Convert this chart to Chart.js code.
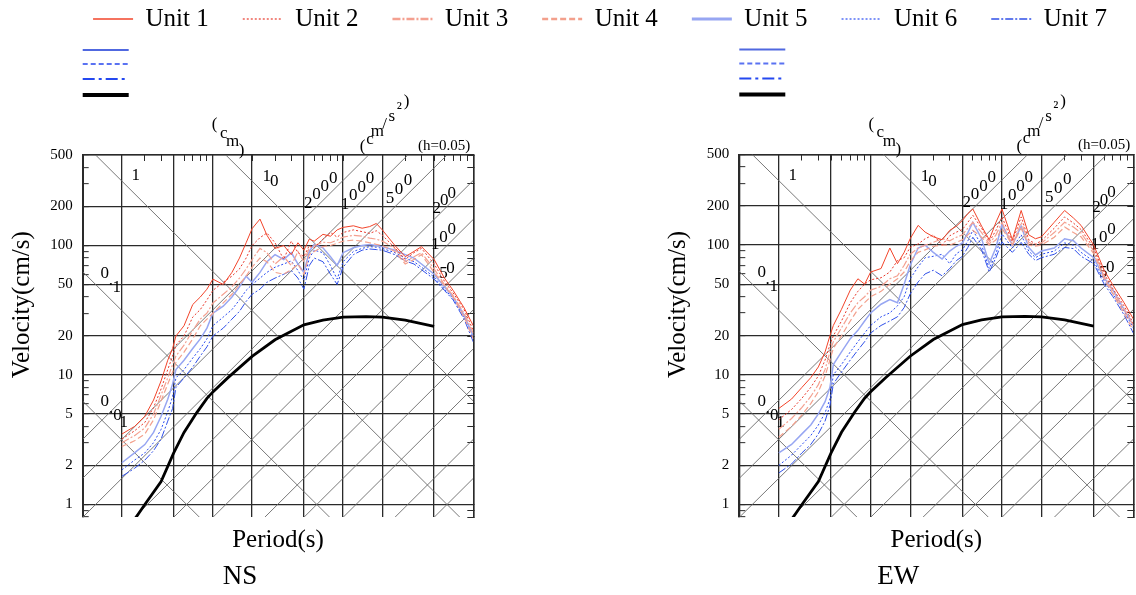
<!DOCTYPE html>
<html>
<head>
<meta charset="utf-8">
<script src="https://cdn.jsdelivr.net/npm/chart.js@4/dist/chart.umd.min.js"></script>
<style>
  html, body { margin: 0; padding: 0; background: #fff; }
  #wrap { position: relative; width: 1136px; height: 595px; }
  #wrap canvas { position: absolute; left: 0; top: 0; }
</style>
</head>
<body>
<div id="wrap">
  <canvas id="ns" width="1136" height="595"></canvas>
  <canvas id="ew" width="1136" height="595"></canvas>
</div>
<script>
// ---- data ----
const unitNames = ['Unit 1', 'Unit 2', 'Unit 3', 'Unit 4', 'Unit 5', 'Unit 6', 'Unit 7']

// period samples (s) shared by all unit spectra
const periods = [0.02, 0.025, 0.03, 0.035, 0.04, 0.045, 0.049, 0.052, 0.06, 0.07, 0.08, 0.09, 0.1,
  0.12, 0.14, 0.16, 0.18, 0.2, 0.23, 0.26, 0.3, 0.35, 0.4, 0.45, 0.5, 0.55, 0.6, 0.7, 0.8, 0.9, 1.0,
  1.2, 1.4, 1.6, 1.8, 2.0, 2.5, 3.0, 3.5, 4.0, 5.0, 6.0, 7.0, 8.5, 10]

// NS velocity response (cm/s)
const nsUnit1 = [3.5, 4.0, 4.8, 6.4, 9.0, 13, 16, 20, 24, 35, 40, 46, 55, 50, 62, 80, 105, 135, 160, 120, 95, 100, 85, 105, 92, 112, 108, 122, 118, 132, 138, 142, 136, 140, 148, 132, 100, 82, 90, 98, 78, 56, 45, 33, 24]
const nsUnit2 = [3.2, 3.7, 4.3, 5.6, 7.8, 11, 14, 17, 20, 28, 32, 38, 45, 52, 58, 66, 80, 100, 115, 125, 105, 78, 108, 88, 82, 100, 96, 112, 126, 116, 126, 132, 128, 124, 130, 120, 96, 78, 88, 95, 72, 53, 43, 32, 22]
const nsUnit3 = [3.0, 3.4, 3.9, 5.0, 7.0, 9.5, 12, 14, 17, 22, 27, 30, 36, 42, 48, 56, 66, 78, 95, 88, 72, 82, 70, 90, 75, 96, 100, 106, 105, 110, 116, 120, 118, 114, 112, 108, 95, 75, 82, 88, 66, 50, 41, 30, 21]
const nsUnit4 = [2.8, 3.1, 3.5, 4.5, 6.3, 8.5, 10.5, 12.5, 15, 19, 24, 27, 30, 36, 42, 50, 58, 68, 80, 75, 62, 60, 65, 72, 60, 85, 90, 98, 100, 104, 108, 110, 108, 105, 102, 100, 90, 72, 78, 85, 62, 49, 40, 28, 19]
const nsUnit5 = [2.1, 2.5, 2.9, 3.6, 4.8, 6.5, 8.5, 11, 13, 16, 19, 23, 30, 34, 40, 48, 58, 52, 62, 75, 85, 78, 88, 72, 62, 90, 102, 96, 82, 70, 88, 96, 100, 102, 100, 98, 92, 85, 80, 72, 60, 48, 40, 29, 20]
const nsUnit6 = [1.85, 2.2, 2.5, 3.0, 3.8, 5.2, 6.8, 9.5, 11, 13.5, 16, 19, 24, 28, 32, 38, 45, 50, 56, 62, 68, 72, 76, 64, 54, 80, 92, 88, 70, 55, 75, 90, 95, 98, 97, 95, 88, 80, 75, 68, 57, 46, 39, 28, 19.5]
const nsUnit7 = [1.65, 1.9, 2.2, 2.6, 3.2, 4.4, 5.5, 8, 9.5, 11.5, 14, 16.5, 20, 23, 27, 31, 37, 42, 46, 52, 56, 60, 64, 56, 46, 70, 80, 75, 60, 50, 68, 85, 92, 94, 93, 92, 85, 76, 72, 65, 55, 45, 38, 27, 18]

// EW velocity response (cm/s)
const ewUnit1 = [5.5, 6.5, 8.0, 9.5, 11.5, 15, 20, 24, 32, 45, 55, 50, 62, 66, 95, 72, 88, 112, 142, 126, 116, 110, 130, 140, 155, 175, 190, 140, 110, 150, 190, 110, 185, 120, 112, 116, 150, 185, 162, 142, 100, 64, 49, 36, 27]
const ewUnit2 = [4.5, 5.4, 6.6, 8.0, 9.8, 13, 17, 20, 26, 36, 44, 50, 54, 56, 62, 76, 80, 96, 102, 112, 120, 100, 118, 126, 132, 150, 170, 135, 106, 130, 165, 106, 165, 110, 102, 108, 135, 165, 148, 132, 95, 60, 46, 34, 25]
const ewUnit3 = [3.8, 4.6, 5.6, 6.8, 8.4, 11, 15, 18, 23, 30, 36, 40, 45, 48, 55, 58, 70, 85, 95, 100, 105, 112, 108, 115, 120, 135, 150, 125, 102, 120, 150, 100, 150, 105, 100, 104, 125, 150, 138, 124, 90, 57, 44, 32, 24]
const ewUnit4 = [3.3, 4.0, 4.9, 6.0, 7.4, 9.8, 13, 16, 20, 26, 32, 36, 40, 44, 50, 55, 62, 75, 88, 92, 98, 100, 100, 105, 110, 120, 130, 115, 100, 110, 135, 100, 135, 100, 98, 100, 115, 138, 125, 116, 86, 55, 42, 30, 22]
const ewUnit5 = [2.5, 2.9, 3.5, 4.1, 5.0, 6.2, 8.0, 12, 15, 19, 22, 26, 30, 35, 38, 36, 50, 70, 95, 100, 88, 78, 90, 98, 104, 125, 150, 112, 72, 96, 145, 100, 140, 96, 84, 90, 95, 112, 108, 95, 80, 56, 45, 32, 24]
const ewUnit6 = [2.0, 2.4, 2.9, 3.4, 4.1, 5.1, 6.5, 10, 12, 15, 18, 21, 24, 28, 30, 34, 40, 55, 68, 80, 82, 85, 72, 86, 92, 108, 130, 100, 66, 86, 122, 95, 120, 90, 80, 85, 90, 104, 100, 88, 75, 53, 42, 31, 23]
const ewUnit7 = [1.75, 2.05, 2.5, 2.9, 3.5, 4.4, 5.8, 8.5, 10.5, 13, 15.5, 18, 21, 24, 26, 28, 33, 42, 52, 60, 64, 58, 66, 76, 82, 96, 115, 92, 62, 80, 106, 88, 105, 85, 76, 80, 85, 96, 94, 82, 72, 50, 40, 29, 21]

// thick black reference spectrum (same in both panels)
const targetPeriods = [0.024, 0.03, 0.04, 0.05, 0.06, 0.075, 0.09, 0.1, 0.13, 0.2, 0.3, 0.5, 0.7, 1.0, 1.5, 2.0, 3.0, 5.0]
const targetVel = [0.72, 1.0, 1.5, 2.5, 3.6, 5.1, 6.6, 7.4, 9.5, 13.9, 18.7, 24.4, 26.5, 28, 28.2, 28, 26.5, 23.7]

// axes
const periodRange = [0.01, 10]
const velocityRange = [0.8, 500]
const periodGrid = [0.01, 0.02, 0.05, 0.1, 0.2, 0.5, 1, 2, 5, 10]
const velocityLabels = [1, 2, 5, 10, 20, 50, 100, 200, 500]

// tripartite families: displacement (cm) and acceleration (cm/s^2)
const dispLines = [0.01, 0.1, 1, 10]
const accLines = [1, 2, 5, 10, 20, 50, 100, 200, 500, 1000, 2000]
const diagLabels = [
  { text: '1', at: [0.0255, 345], step: [0, 0] },
  { text: '10', at: [0.259, 340], step: [7.5, 5] },
  { text: '0.1', at: [0.0148, 61], step: [6, 7] },
  { text: '0.01', at: [0.0148, 6.26], step: [6.3, 7] },
  { text: '2000', at: [0.54, 212], step: [8.3, -8.3] },
  { text: '1000', at: [1.035, 206], step: [8.3, -8.9] },
  { text: '500', at: [2.29, 232], step: [9, -9] },
  { text: '200', at: [5.24, 194], step: [7.5, -7.5] },
  { text: '100', at: [5.1, 101], step: [8.3, -7.5] },
  { text: '50', at: [5.9, 61], step: [7, -5] }
]
const unitNotes = [
  { text: '(cm)', dx: 132, dy: -30, step: [9, 8.5] },
  { text: '(cm/s\u00b2)', dx: 280, dy: -8, step: [7.3, -7.5] }
]

// ---- styles ----
const serif = '"Liberation Serif", "Times New Roman", serif'
Chart.defaults.font.family = serif
Chart.defaults.color = '#000'
const gridColor = '#2a2a2a'
const clear = 'rgba(0,0,0,0)'

const unitStyles = [
  { borderColor: '#f2442a', borderWidth: 1, borderDash: [], keyWidth: 1.5 },
  { borderColor: '#e8392c', borderWidth: 1, borderDash: [2, 2], keyWidth: 1.2 },
  { borderColor: '#f4a090', borderWidth: 1.2, borderDash: [8, 2, 2, 2], keyWidth: 2.5 },
  { borderColor: '#f3a08c', borderWidth: 1.2, borderDash: [6, 3], keyWidth: 2.5 },
  { borderColor: '#97a6f2', borderWidth: 1.5, borderDash: [], keyWidth: 3 },
  { borderColor: '#2a4cf2', borderWidth: 1, borderDash: [2, 2], keyWidth: 1.2 },
  { borderColor: '#3050e8', borderWidth: 1, borderDash: [8, 2, 2, 2], keyWidth: 1.5 }
]
const keyStyles = [
  { borderColor: '#5068e0', borderWidth: 1.5, borderDash: [], keyWidth: 2 },
  { borderColor: '#5a72f2', borderWidth: 1.5, borderDash: [5, 3], keyWidth: 2.2 },
  { borderColor: '#2448f0', borderWidth: 1.5, borderDash: [12, 4, 3, 4], keyWidth: 2 }
]

function decadeTicks(min, max) {
  let out = []
  for (let e = -3; e <= 3; e++) {
    for (let m = 1; m <= 9; m++) {
      let v = +(m * Math.pow(10, e)).toPrecision(2)
      if (v >= min * 0.999 && v <= max * 1.001) out.push(v)
    }
  }
  return out
}
const xTicks = decadeTicks(periodRange[0], periodRange[1])
const yTicks = decadeTicks(velocityRange[0], velocityRange[1])
const isMajor = (v, list) => list.some(m => Math.abs(v / m - 1) < 1e-6)

// ---- plugins ----
const legendNudge = {
  id: 'legendNudge',
  afterLayout(chart, args, opts) {
    let lg = chart.legend
    if (!lg || !lg.options.display) return
    lg.left += opts.dx; lg.right += opts.dx
    lg.top += opts.dy; lg.bottom += opts.dy
  }
}

const keyBlock = {
  id: 'keyBlock',
  afterDraw(chart, args, opts) {
    let { ctx, chartArea: a } = chart
    chart.data.datasets.forEach(ds => {
      if (ds.keyRow === undefined) return
      let y = a.top + opts.rows[ds.keyRow]
      ctx.save()
      ctx.strokeStyle = ds.borderColor
      ctx.lineWidth = ds.keyWidth || ds.borderWidth
      ctx.setLineDash(ds.borderDash || [])
      ctx.beginPath()
      ctx.moveTo(a.left + opts.x0, y)
      ctx.lineTo(a.left + opts.x0 + opts.len, y)
      ctx.stroke()
      ctx.restore()
    })
  }
}

const tripartite = {
  id: 'tripartite',
  beforeDatasetsDraw(chart, args, o) {
    let { ctx, chartArea: a } = chart
    let xs = chart.scales.x, ys = chart.scales.y
    let t0 = xs.min, t1 = xs.max, k = 2 * Math.PI
    let px = (t, v) => [xs.getPixelForValue(t), ys.getPixelForValue(v)]
    let seg = (p, q) => { ctx.beginPath(); ctx.moveTo(p[0], p[1]); ctx.lineTo(q[0], q[1]); ctx.stroke() }
    ctx.save()
    ctx.beginPath()
    ctx.rect(a.left, a.top, a.right - a.left, a.bottom - a.top)
    ctx.clip()
    ctx.strokeStyle = o.color
    ctx.lineWidth = o.width
    dispLines.forEach(d => seg(px(t0, k * d / t0), px(t1, k * d / t1)))
    accLines.forEach(g => seg(px(t0, g * t0 / k), px(t1, g * t1 / k)))
    ctx.restore()

    ctx.save()
    ctx.fillStyle = '#000'
    ctx.font = o.font
    ctx.textAlign = 'center'
    ctx.textBaseline = 'middle'
    diagLabels.forEach(l => {
      let p = px(l.at[0], l.at[1])
      Array.from(l.text).forEach((ch, i) => ctx.fillText(ch, p[0] + i * l.step[0], p[1] + i * l.step[1]))
    })
    ctx.restore()
  },
  afterDraw(chart, args, o) {
    let { ctx, chartArea: a } = chart
    ctx.save()
    ctx.fillStyle = '#000'
    ctx.font = o.font
    ctx.textAlign = 'center'
    ctx.textBaseline = 'middle'
    unitNotes.forEach(n => {
      Array.from(n.text).forEach((ch, i) => ctx.fillText(ch, a.left + n.dx + i * n.step[0], a.top + n.dy + i * n.step[1]))
    })
    ctx.textAlign = 'right'
    ctx.font = o.smallFont
    ctx.fillText(o.damping, a.right - 3, a.top - 9)
    // panel name under the axis title
    ctx.textAlign = 'center'
    ctx.font = o.nameFont
    ctx.fillText(o.name, (a.left + a.right) / 2 + o.nameDx, o.nameY)
    ctx.restore()
  }
}

// ---- chart builders ----
function buildDatasets(series) {
  let ds = [{
    label: '', keyRow: 3, keyWidth: 4,
    data: targetPeriods.map((t, i) => ({ x: t, y: targetVel[i] })),
    borderColor: '#000', borderWidth: 2.8
  }]
  series.forEach((vals, i) => {
    ds.push({ label: unitNames[i], data: periods.map((t, k) => ({ x: t, y: vals[k] })), ...unitStyles[i] })
  })
  keyStyles.forEach((s, k) => ds.push({ label: '', data: [], keyRow: k, ...s }))
  return ds.map(d => ({ ...d, showLine: true, pointRadius: 0, pointStyle: 'line', tension: 0, fill: false }))
}

function logAxis(position, range, ticks, extra) {
  return Object.assign({
    type: 'logarithmic', position: position, min: range[0], max: range[1], bounds: 'data',
    afterBuildTicks: s => { s.ticks = ticks.map(v => ({ value: v })) },
    ticks: { display: false, autoSkip: false }
  }, extra)
}

function panelOptions(cfg) {
  return {
    responsive: false,
    animation: false,
    events: [],
    layout: { padding: { left: cfg.padLeft, right: 0, top: 0, bottom: 0 } },
    scales: {
      x: logAxis('bottom', periodRange, xTicks, {
        afterFit: s => { s.height = cfg.bottomH },
        grid: { color: c => c.tick && isMajor(c.tick.value, periodGrid) ? gridColor : clear, lineWidth: 1.3, drawTicks: false },
        border: { display: false },
        title: { display: true, text: 'Period(s)', font: { size: 25 }, color: '#000', padding: { top: 0, bottom: 40 } }
      }),
      xTop: logAxis('top', periodRange, xTicks, {
        afterFit: s => {
          let lg = s.chart.legend
          s.height = cfg.plotTop - (lg ? lg.height : 0)
        },
        grid: { drawOnChartArea: false, tickLength: -6, tickColor: gridColor, tickWidth: 1, color: gridColor },
        border: { display: true, color: gridColor, width: 1.5 }
      }),
      y: logAxis('left', velocityRange, yTicks, {
        afterFit: s => { s.width = cfg.leftW },
        ticks: {
          display: true, autoSkip: false, padding: 16, color: '#000', font: { size: 15 },
          callback: v => isMajor(v, velocityLabels) ? String(v) : ''
        },
        grid: { color: c => c.tick && isMajor(c.tick.value, velocityLabels) ? gridColor : clear, lineWidth: 1.3, tickLength: -6, tickColor: gridColor, tickWidth: 1 },
        border: { display: true, color: gridColor, width: 2 },
        title: { display: true, text: '          Velocity(cm/s)', font: { size: 25 }, color: '#000', padding: { top: 7, bottom: 0 } }
      }),
      yR: logAxis('right', velocityRange, yTicks, {
        afterFit: s => { s.width = cfg.rightW },
        grid: { drawOnChartArea: false, tickLength: -6, tickColor: gridColor, tickWidth: 1, color: gridColor },
        border: { display: true, color: gridColor, width: 1.5 }
      })
    },
    plugins: {
      legend: {
        display: cfg.showLegend,
        position: 'top',
        align: 'center',
        labels: {
          usePointStyle: true,
          pointStyleWidth: 40,
          padding: 34,
          color: '#000',
          font: { size: 25 },
          filter: item => item.text !== '',
          generateLabels: chart => Chart.defaults.plugins.legend.labels.generateLabels(chart).map(item => {
            let ds = chart.data.datasets[item.datasetIndex]
            return {
              ...item,
              strokeStyle: ds.borderColor,
              lineDash: ds.borderDash || [],
              lineWidth: ds.keyWidth || ds.borderWidth,
              pointStyle: 'line'
            }
          })
        }
      },
      tooltip: { enabled: false },
      legendNudge: { dx: 32, dy: -27.5 },
      keyBlock: { rows: [-105, -91, -76, -60], x0: 0, len: 46 },
      tripartite: {
        color: '#6a6a6a', width: 0.9,
        font: '17px ' + serif, smallFont: '15px ' + serif, nameFont: '27px ' + serif,
        damping: '(h=0.05)', name: cfg.name, nameDx: -38, nameY: 577
      }
    }
  }
}

new Chart(document.getElementById('ns'), {
  type: 'scatter',
  data: { datasets: buildDatasets([nsUnit1, nsUnit2, nsUnit3, nsUnit4, nsUnit5, nsUnit6, nsUnit7]) },
  options: panelOptions({ name: 'NS', showLegend: true, padLeft: 0, leftW: 82.7, rightW: 662.7, plotTop: 155, bottomH: 78 }),
  plugins: [legendNudge, keyBlock, tripartite]
})

new Chart(document.getElementById('ew'), {
  type: 'scatter',
  data: { datasets: buildDatasets([ewUnit1, ewUnit2, ewUnit3, ewUnit4, ewUnit5, ewUnit6, ewUnit7]) },
  options: panelOptions({ name: 'EW', showLegend: false, padLeft: 656.6, leftW: 82.7, rightW: 2.7, plotTop: 154.5, bottomH: 78 }),
  plugins: [legendNudge, keyBlock, tripartite]
})
</script>
</body>
</html>
